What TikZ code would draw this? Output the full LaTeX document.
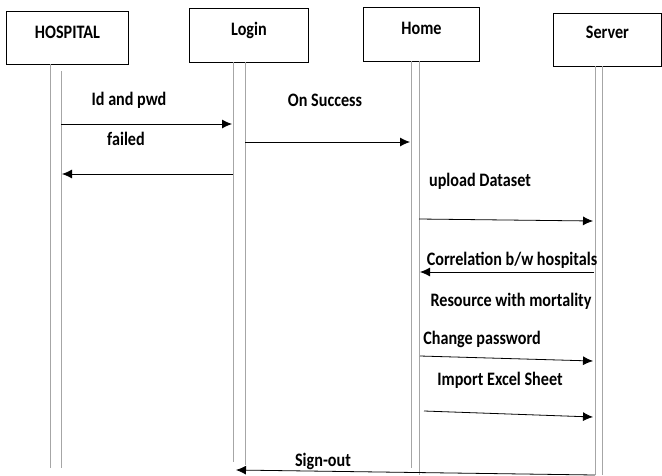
\documentclass[tikz,border=0pt]{standalone}
\usepackage{fontspec}
\setmainfont{Carlito}[FakeStretch=0.85]
\usetikzlibrary{positioning}
\usetikzlibrary{calc}
\usetikzlibrary{arrows.meta}

\tikzset{
    objbox/.style={draw, rectangle, line width=0.9pt, anchor=north west, inner xsep=0pt, inner ysep=0pt,
        font=\bfseries\fontsize{19}{21}\selectfont},
    life/.style={draw=gray!70, line width=0.9pt},
    msg/.style={-{Latex[length=10pt,width=9pt]}, line width=0.8pt},
    lbl/.style={font=\bfseries\fontsize{19}{21}\selectfont, inner sep=0pt},
}

\begin{document}
\begin{tikzpicture} [x=1pt, y=-1pt]
    \useasboundingbox (0,0) rectangle (662,475);
    % Sequence diagram for Hospital, Login, Home and Server
    \node (HOSP) [objbox, minimum width=122pt, text height=27pt, text depth=26pt] at (6, 11) {HOSPITAL};
    \node (LOG) [objbox, minimum width=119pt, text height=27pt, text depth=27pt] at (189, 8) {Login};
    \node (HOME) [objbox, minimum width=116pt, text height=27pt, text depth=27pt] at (363, 7) {Home};
    \node (SRV) [objbox, minimum width=108pt, text height=25pt, text depth=28pt] at (553, 13) {Server};

    % lifelines
    \draw[life] (50, 64) -- (50, 468);
    \draw[life] (61, 71) -- (61, 468);
    \draw[life] (233, 62) -- (233, 462);
    \draw[life] (245, 62) -- (245, 465);
    \draw[life] (411, 61) -- (411, 468);
    \draw[life] (419, 61) -- (419, 475);
    \draw[life] (595, 66) -- (595, 475);
    \draw[life] (602, 66) -- (602, 475);

    % message end points
    \coordinate (IDs) at (61, 124);  \coordinate (IDe) at (232, 124);
    \coordinate (FLs) at (233, 174); \coordinate (FLe) at (62, 174);
    \coordinate (OKs) at (245, 142); \coordinate (OKe) at (410, 142);
    \coordinate (UPs) at (419, 219); \coordinate (UPe) at (593, 221);
    \coordinate (CRs) at (594, 272); \coordinate (CRe) at (420, 272);
    \coordinate (CPs) at (420, 356); \coordinate (CPe) at (593, 361);
    \coordinate (IXs) at (424, 411); \coordinate (IXe) at (593, 417);
    \coordinate (SOs) at (595, 475); \coordinate (SOe) at (236, 470);

    % labels
    \node (lID) [lbl] at (129, 100) {Id and pwd};
    \node (lFL) [lbl] at (126, 139) {failed};
    \node (lOK) [lbl] at (325, 100) {On Success};
    \node (lUP) [lbl] at (480, 181) {upload Dataset};
    \node (lCR) [lbl] at (512, 260) {Correlation b/w hospitals};
    \node (lRM) [lbl] at (511, 301) {Resource with mortality};
    \node (lCP) [lbl] at (482, 339) {Change password};
    \node (lIX) [lbl] at (500, 380) {Import Excel Sheet};
    \node (lSO) [lbl] at (323, 461) {Sign-out};

    \draw[msg] (IDs) -- (IDe);
    \draw[msg] (FLs) -- (FLe);
    \draw[msg] (OKs) -- (OKe);
    \draw[msg] (UPs) -- (UPe);
    \draw[msg] (CRs) -- (CRe);
    \draw[msg] (CPs) -- (CPe);
    \draw[msg] (IXs) -- (IXe);
    \draw[msg] (SOs) -- (SOe);

\end{tikzpicture}
\end{document}
